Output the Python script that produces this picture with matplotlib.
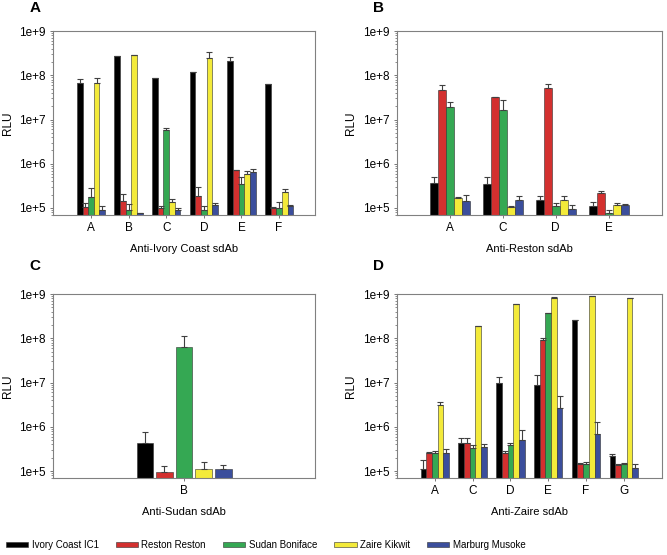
import numpy as np
import matplotlib
matplotlib.use('Agg')
import matplotlib.pyplot as plt
from matplotlib.ticker import LogLocator, FuncFormatter, NullFormatter
from matplotlib.patches import Patch

plt.rcParams['font.family'] = ['Liberation Sans', 'DejaVu Sans']

series = ['Ivory Coast IC1', 'Reston Reston', 'Sudan Boniface', 'Zaire Kikwit', 'Marburg Musoke']
colors = ['#000000', '#d3302f', '#35a853', '#f3ea3a', '#3b4e9c']

# panel A: anti-Ivory Coast sdAb
groups_a = ['A', 'B', 'C', 'D', 'E', 'F']
vals_a = [
    [6.8e7, 2.8e8, 8.5e7, 1.2e8, 2.1e8, 6.2e7],
    [1.07e5, 1.44e5, 9.8e4, 1.9e5, 7.2e5, 1.0e5],
    [1.74e5, 9.0e4, 5.7e6, 8.9e4, 3.4e5, 1.0e5],
    [6.8e7, 2.95e8, 1.39e5, 2.4e8, 5.75e5, 2.25e5],
    [9.0e4, 7.6e4, 8.9e4, 1.17e5, 6.6e5, 1.1e5],
]
tops_a = [
    [8.1e7, 2.8e8, 8.8e7, 1.2e8, 2.6e8, 6.4e7],
    [1.27e5, 2.04e5, 1.1e5, 2.9e5, 7.2e5, 1.05e5],
    [2.78e5, 1.2e5, 6.5e6, 1.13e5, 4.9e5, 1.34e5],
    [8.9e7, 2.95e8, 1.6e5, 3.3e8, 6.9e5, 2.64e5],
    [1.09e5, 7.6e4, 1.0e5, 1.32e5, 7.5e5, 1.15e5],
]

# panel B: anti-Reston sdAb
groups_b = ['A', 'C', 'D', 'E']
vals_b = [
    [3.7e5, 3.5e5, 1.49e5, 1.11e5],
    [4.66e7, 3.24e7, 5.1e7, 2.22e5],
    [1.89e7, 1.64e7, 1.11e5, 7.6e4],
    [1.71e5, 1.05e5, 1.5e5, 1.15e5],
    [1.44e5, 1.5e5, 9.5e4, 1.17e5],
]
tops_b = [
    [4.9e5, 4.9e5, 1.83e5, 1.34e5],
    [5.9e7, 3.3e7, 6.3e7, 2.38e5],
    [2.46e7, 2.8e7, 1.3e5, 8.8e4],
    [1.75e5, 1.08e5, 1.83e5, 1.3e5],
    [1.93e5, 1.83e5, 1.17e5, 1.2e5],
]

# panel C: anti-Sudan sdAb
groups_c = ['B']
vals_c = [[4.2e5], [9.3e4], [6.5e7], [1.13e5], [1.09e5]]
tops_c = [[7.7e5], [1.3e5], [1.15e8], [1.57e5], [1.4e5]]

# panel D: anti-Zaire sdAb
groups_d = ['A', 'C', 'D', 'E', 'F', 'G']
vals_d = [
    [1.09e5, 4.2e5, 1.0e7, 9.0e6, 2.6e8, 2.13e5],
    [2.5e5, 4.4e5, 2.6e5, 9.0e7, 1.46e5, 1.39e5],
    [2.5e5, 3.4e5, 3.9e5, 3.7e8, 1.46e5, 1.46e5],
    [3.1e6, 1.9e8, 5.9e8, 8.0e8, 9.0e8, 8.0e8],
    [2.5e5, 3.5e5, 5.1e5, 2.66e6, 6.9e5, 1.2e5],
]
tops_d = [
    [1.8e5, 5.7e5, 1.35e7, 1.48e7, 2.65e8, 2.45e5],
    [2.7e5, 5.5e5, 2.8e5, 1.0e8, 1.48e5, 1.41e5],
    [2.8e5, 3.9e5, 4.4e5, 3.72e8, 1.56e5, 1.5e5],
    [3.7e6, 1.95e8, 6.1e8, 8.7e8, 9.2e8, 8.3e8],
    [3.2e5, 4.1e5, 8.5e5, 5.1e6, 1.27e6, 1.46e5],
]

fig = plt.figure(figsize=(6.67, 5.55), dpi=100)


def draw_panel(rect, groups, vals, tops, xlabel, width=0.15, xlim=None):
    ax = fig.add_axes(rect)
    x = np.arange(len(groups))
    pitch = 0.15
    for i in range(5):
        v = np.array(vals[i])
        err = np.array(tops[i]) - v
        ax.bar(x + (i - 2) * pitch, v, width, color=colors[i], edgecolor='#303030',
               linewidth=0.4, yerr=[np.zeros_like(v), err], capsize=2.2,
               error_kw=dict(ecolor='#404040', elinewidth=0.8, capthick=0.8), zorder=2)
    ax.set_yscale('log')
    ax.set_ylim(7e4, 1e9)
    if xlim is None:
        xlim = (-1, len(groups))
    ax.set_xlim(*xlim)
    ax.set_xticks(x)
    ax.set_xticklabels(groups)
    ax.yaxis.set_major_locator(LogLocator(base=10, numticks=10))
    ax.yaxis.set_minor_locator(LogLocator(base=10, subs=np.arange(2, 10), numticks=20))
    ax.yaxis.set_major_formatter(FuncFormatter(lambda v, p: '1e+%d' % round(np.log10(v))))
    ax.yaxis.set_minor_formatter(NullFormatter())
    ax.tick_params(axis='both', labelsize=8.5, color='#606060', length=2.5, width=0.6, pad=3)
    ax.tick_params(axis='y', which='minor', length=1.5, width=0.5, color='#606060')
    for s in ax.spines.values():
        s.set_color('#808080')
        s.set_linewidth(0.8)
    ax.set_ylabel('RLU', fontsize=8.5, labelpad=4)
    ax.set_xlabel(xlabel, fontsize=8, labelpad=7)
    return ax


draw_panel([0.080, 0.613, 0.392, 0.331], groups_a, vals_a, tops_a, 'Anti-Ivory Coast sdAb',
           xlim=(-1, 5.95))
draw_panel([0.595, 0.613, 0.397, 0.331], groups_b, vals_b, tops_b, 'Anti-Reston sdAb')
draw_panel([0.080, 0.139, 0.392, 0.331], groups_c, vals_c, tops_c, 'Anti-Sudan sdAb',
           width=0.127, xlim=(-1, 1))
draw_panel([0.595, 0.139, 0.397, 0.331], groups_d, vals_d, tops_d, 'Anti-Zaire sdAb')

for lab, fx, fy in [('A', 35, 8), ('B', 379, 8), ('C', 35, 266), ('D', 379, 266)]:
    fig.text(fx / 667, 1 - fy / 555, lab, fontsize=11, fontweight='bold', ha='center', va='center')

handles = [Patch(facecolor=c, edgecolor='#303030', linewidth=0.4) for c in colors]
fig.legend(handles, series, loc='center left', bbox_to_anchor=(0.006, 1 - 545 / 555), ncol=5,
           frameon=False, fontsize=7, handlelength=2.3, handleheight=0.45,
           handletextpad=0.35, columnspacing=1.75, borderaxespad=0, borderpad=0.2)

plt.savefig('out.png', dpi=100)
